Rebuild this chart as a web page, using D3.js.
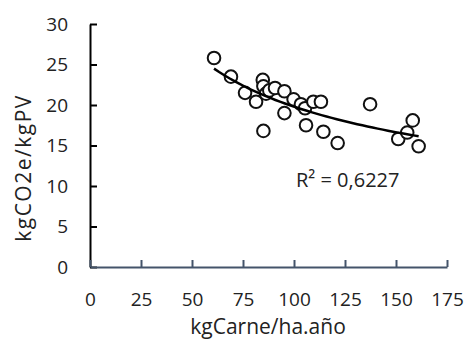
<!DOCTYPE html>
<html>
<head>
<meta charset="utf-8">
<script src="https://cdn.jsdelivr.net/npm/d3@7"></script>
<style>
  body { margin: 0; background: #fff; }
  text { font-family: "Open Sans", sans-serif; fill: #222; }
</style>
</head>
<body>
<div id="scatter"></div>
<script>

// data
var carne = [60.8, 69.1, 76.0, 81.4, 84.7, 85.0, 86.3, 87.9, 90.7, 95.3, 95.3, 85.0,
             99.8, 103.4, 105.4, 105.9, 109.5, 113.2, 114.4, 121.4, 137.3, 151.1,
             155.5, 158.2, 161.1];
var co2 = [25.8, 23.5, 21.5, 20.4, 23.1, 22.3, 21.4, 21.8, 22.1, 21.7, 19.0, 16.8,
           20.7, 20.1, 19.6, 17.5, 20.4, 20.4, 16.7, 15.3, 20.1, 15.8,
           16.6, 18.1, 14.9];
var xTicks = [0, 25, 50, 75, 100, 125, 150, 175];
var yTicks = [0, 5, 10, 15, 20, 25, 30];
var r2Label = "R² = 0,6227";

var svgWidth = 464;
var svgHeight = 340;

var svg = d3.select("#scatter")
  .append("svg")
  .attr("width", svgWidth)
  .attr("height", svgHeight);

var xScale = d3.scaleLinear().domain([0, 175]).range([90, 447]);
var yScale = d3.scaleLinear().domain([0, 30]).range([267, 24]);

// y axis (ticks inside)
var yAxis = d3.axisLeft(yScale).tickValues(yTicks).tickSizeInner(-7).tickSizeOuter(0).tickPadding(22);
var gy = svg.append("g")
  .attr("transform", "translate(90,0)")
  .call(yAxis);
gy.select(".domain").attr("stroke", "#000").attr("stroke-width", 2);
gy.selectAll(".tick line").attr("stroke", "#000").attr("stroke-width", 2);
gy.selectAll(".tick text").style("font-size", "19px").attr("fill", "#222");

// x axis (ticks inside)
var xAxis = d3.axisBottom(xScale).tickValues(xTicks).tickSizeInner(-7).tickSizeOuter(0).tickPadding(26);
var gx = svg.append("g")
  .attr("transform", "translate(0,267)")
  .call(xAxis);
gx.select(".domain").attr("stroke", "#44546a").attr("stroke-width", 2);
gx.selectAll(".tick line").attr("stroke", "#44546a").attr("stroke-width", 2);
gx.selectAll(".tick text").style("font-size", "19px").attr("fill", "#222");

// axis titles
svg.append("text")
  .attr("x", 268)
  .attr("y", 334)
  .style("text-anchor", "middle")
  .style("font-size", "21px")
  .text("kgCarne/ha.año");

svg.append("text")
  .attr("transform", "translate(31,168) rotate(-90)")
  .style("text-anchor", "middle")
  .style("font-size", "21px")
  .style("letter-spacing", "1.5px")
  .text("kgCO2e/kgPV");

// points
var pts = carne.map(function(d, i) { return {x: d, y: co2[i]}; });
svg.append("g").selectAll("circle")
  .data(pts)
  .enter()
  .append("circle")
  .attr("cx", d => xScale(d.x))
  .attr("cy", d => yScale(d.y))
  .attr("r", 6.3)
  .attr("fill", "#fff")
  .attr("stroke", "#111")
  .attr("stroke-width", 2);

// power trendline (least squares on logs)
var lx = carne.map(Math.log), ly = co2.map(Math.log);
var mx = d3.mean(lx), my = d3.mean(ly);
var b = d3.sum(lx, (v, i) => (v - mx) * (ly[i] - my)) / d3.sum(lx, v => (v - mx) * (v - mx));
var a = Math.exp(my - b * mx);
var xmin = d3.min(carne), xmax = d3.max(carne);
var trend = d3.range(0, 41).map(i => xmin + (xmax - xmin) * i / 40);
svg.append("path")
  .datum(trend)
  .attr("fill", "none")
  .attr("stroke", "#000")
  .attr("stroke-width", 2.5)
  .attr("d", d3.line().x(d => xScale(d)).y(d => yScale(a * Math.pow(d, b))));

svg.append("text")
  .attr("x", 296)
  .attr("y", 187)
  .style("font-size", "20px")
  .text(r2Label);

</script>
</body>
</html>
